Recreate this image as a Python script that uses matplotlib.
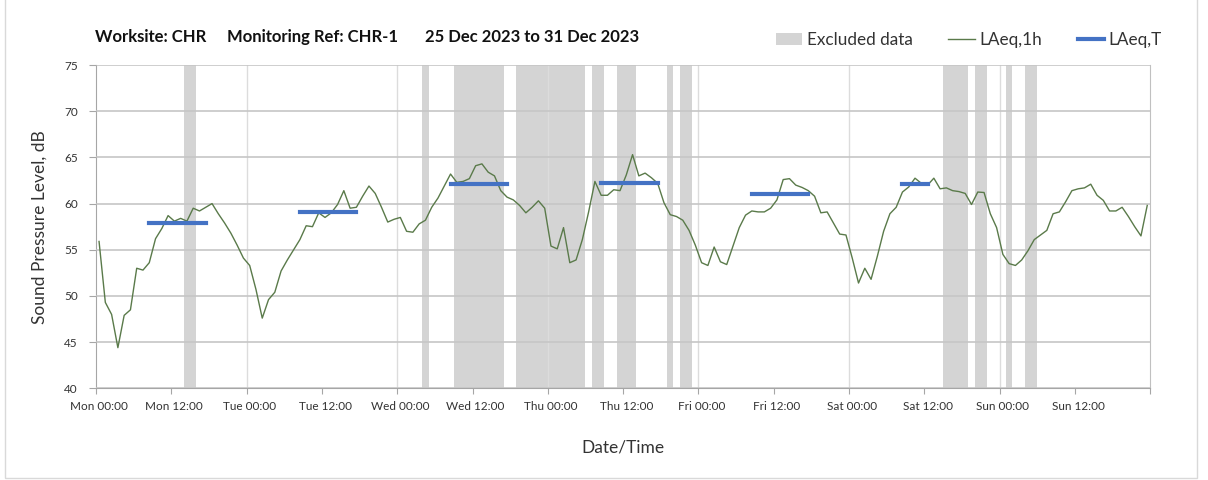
import matplotlib
matplotlib.use("Agg")
import matplotlib.pyplot as plt
from matplotlib.lines import Line2D
from matplotlib.patches import Patch, Rectangle

plt.rcParams['font.family'] = ['Lato', 'DejaVu Sans']

# ---- data -------------------------------------------------------------
# hourly LAeq,1h values, hour 0 = Mon 00:00 ... hour 167 = Sun 23:00
laeq_1h = [
    55.9, 49.3, 48.0, 44.4, 47.9, 48.5, 53.0, 52.8, 53.6, 56.2, 57.3, 58.7,
    58.1, 58.4, 58.1, 59.5, 59.2, 59.6, 60.0, 58.9, 57.9, 56.8, 55.5, 54.1,
    53.3, 50.7, 47.6, 49.6, 50.4, 52.7, 53.9, 55.0, 56.1, 57.6, 57.5, 59.0,
    58.5, 59.0, 59.9, 61.4, 59.5, 59.6, 60.8, 61.9, 61.1, 59.6, 58.0, 58.3,
    58.5, 57.0, 56.9, 57.8, 58.2, 59.6, 60.6, 61.9, 63.2, 62.3, 62.4, 62.7,
    64.1, 64.3, 63.4, 63.0, 61.4, 60.7, 60.4, 59.8, 59.0, 59.6, 60.3, 59.5,
    55.4, 55.1, 57.4, 53.6, 53.9, 56.1, 59.1, 62.4, 60.9, 60.9, 61.5, 61.4,
    63.1, 65.3, 63.0, 63.3, 62.8, 62.2, 60.1, 58.8, 58.6, 58.2, 57.1, 55.5,
    53.6, 53.3, 55.3, 53.7, 53.4, 55.4, 57.4, 58.75, 59.2, 59.1, 59.1, 59.5,
    60.4, 62.6, 62.7, 62.0, 61.75, 61.4, 60.8, 59.0, 59.1, 57.9, 56.7, 56.6,
    54.1, 51.4, 53.0, 51.8, 54.3, 57.0, 58.9, 59.6, 61.25, 61.8, 62.75, 62.2,
    62.0, 62.75, 61.6, 61.7, 61.4, 61.3, 61.1, 59.9, 61.25, 61.2, 58.9, 57.4,
    54.5, 53.5, 53.3, 53.9, 54.9, 56.1, 56.6, 57.1, 58.9, 59.1, 60.2, 61.4,
    61.6, 61.7, 62.1, 60.9, 60.35, 59.2, 59.2, 59.6, 58.6, 57.5, 56.5, 59.8,
]
hours = list(range(len(laeq_1h)))

# hours flagged as excluded data
excluded_hours = [14, 15, 52, 57, 58, 59, 60, 61, 62, 63, 64,
                  67, 68, 69, 70, 71, 72, 73, 74, 75, 76, 77,
                  79, 80, 83, 84, 85, 91, 93, 94,
                  135, 136, 137, 138, 140, 141, 145, 148, 149]

# LAeq,T daytime periods (start hour, end hour, level)
laeqT_start = [8, 32, 56, 80, 104, 128]
laeqT_end = [17, 41, 65, 89, 113, 132]
laeqT_level = [57.9, 59.1, 62.1, 62.25, 61.0, 62.1]

tick_labels = ['Mon 00:00', 'Mon 12:00', 'Tue 00:00', 'Tue 12:00',
               'Wed 00:00', 'Wed 12:00', 'Thu 00:00', 'Thu 12:00',
               'Fri 00:00', 'Fri 12:00', 'Sat 00:00', 'Sat 12:00',
               'Sun 00:00', 'Sun 12:00']

# ---- figure -----------------------------------------------------------
fig = plt.figure(figsize=(12.08, 4.8), dpi=100)

# light chart-area border
fig.patches.append(Rectangle((5 / 1208, 2 / 480), 1192 / 1208, 1.2,
                             transform=fig.transFigure, fill=False,
                             edgecolor='#d9d9d9', lw=1.0))

ax = fig.add_axes([0.0794, 0.1910, 0.8729, 0.6735])

y_min, y_max = 40, 75
bars = ax.bar(excluded_hours, [y_max - y_min] * len(excluded_hours),
              bottom=y_min, width=1.0, color='#d4d4d4', linewidth=0,
              zorder=1, label='Excluded data')

line, = ax.plot(hours, laeq_1h, color='#5a7a4a', lw=1.0, zorder=4,
                label='LAeq,1h')

for s, e, v in zip(laeqT_start, laeqT_end, laeqT_level):
    tl, = ax.plot([s, e], [v, v], color='#4472C4', lw=3.0,
                  solid_capstyle='projecting', zorder=5)
tl.set_label('LAeq,T')

ax.set_xlim(-0.5, 167.5)
ax.set_ylim(y_min, y_max)

# horizontal grid
ax.set_yticks(range(40, 76, 5))
ax.yaxis.grid(True, color='#c6c6c6', lw=1.2, zorder=2)
ax.set_axisbelow(False)
for gl in ax.get_ygridlines():
    gl.set_zorder(2)
# vertical daily boundaries
for k in range(1, 7):
    ax.axvline(-0.5 + 24 * k, color='#dcdcdc', lw=1.0, zorder=2)

# x ticks: marks at category boundaries, labels at category centres
ax.set_xticks([-0.5 + 12 * k for k in range(15)])
ax.set_xticklabels([])
ax.set_xticks([12 * k for k in range(14)], minor=True)
ax.set_xticklabels(tick_labels, minor=True)
ax.tick_params(axis='x', which='major', length=4, color='#a6a6a6',
               direction='out')
ax.tick_params(axis='x', which='minor', length=0, pad=9, labelsize=8.5,
               labelcolor='#333333')
ax.tick_params(axis='y', length=5, color='#a6a6a6', pad=8, labelsize=8.5,
               labelcolor='#333333')

ax.spines['top'].set_visible(False)
ax.spines['left'].set_color('#a6a6a6')
ax.spines['bottom'].set_color('#a6a6a6')
ax.spines['right'].set_color('#c0c0c0')

ax.set_ylabel('Sound Pressure Level, dB', fontsize=12.5, color='#333333',
              labelpad=12)
ax.set_xlabel('Date/Time', fontsize=12.5, color='#333333', labelpad=20)

# title pieces
ty = 1 - 37 / 480
title_kw = dict(fontsize=12, fontweight='bold', va='center', ha='left',
                color='#111111')
fig.text(95 / 1208, ty, 'Worksite: CHR', **title_kw)
fig.text(227 / 1208, ty, 'Monitoring Ref: CHR-1', **title_kw)
fig.text(425 / 1208, ty, '25 Dec 2023 to 31 Dec 2023', **title_kw)

handles = [Patch(facecolor='#d4d4d4', edgecolor='none'),
           Line2D([], [], color='#5a7a4a', lw=1.0),
           Line2D([], [], color='#4472C4', lw=3.0)]
fig.legend(handles, ['Excluded data', 'LAeq,1h', 'LAeq,T'],
           loc='center left', bbox_to_anchor=(776 / 1208, 1 - 40 / 480),
           ncol=3, frameon=False, fontsize=12.3, handlelength=1.55,
           handleheight=0.75, handletextpad=0.25, columnspacing=2.1,
           borderpad=0, borderaxespad=0, labelcolor='#333333')

fig.savefig('out.png', dpi=100)
